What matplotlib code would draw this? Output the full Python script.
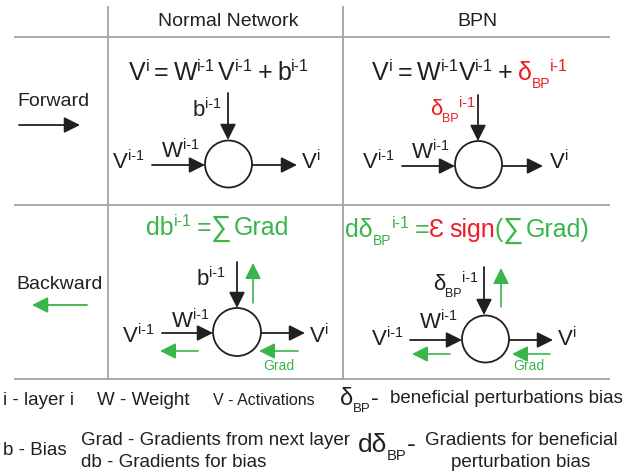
import matplotlib.pyplot as plt
from matplotlib.patches import Circle

plt.rcParams['font.family'] = ['Liberation Sans', 'DejaVu Sans']

INK = '#231f20'
RED = '#ed1c24'
GREEN = '#39b54a'
GRID = '#a3a3a3'
DPI = 100

# Texts of the figure
columns = ['Normal Network', 'BPN']
passes = ['Forward', 'Backward']
grad_label = 'Grad'
legend_row1 = ['i - layer i', 'W - Weight', 'V - Activations', 'beneficial perturbations bias']
legend_row2 = ['b - Bias', 'Grad - Gradients from next layer', 'db - Gradients for bias',
               'Gradients for beneficial', 'perturbation bias']

fig = plt.figure(figsize=(6.28, 4.73), dpi=DPI)
ax = fig.add_axes([0, 0, 1, 1])
ax.set_xlim(0, 628)
ax.set_ylim(473, 0)
ax.axis('off')
renderer = fig.canvas.get_renderer()

# size scale and baseline shift (in em) for each kind of piece
STYLE = {'n': (1.0, 0.0), 'big': (1.15, 0.02), 'sup': (0.64, -0.36), 'sub': (0.56, 0.3)}


def rich(x, y, pieces, size, ha='left'):
    # pieces: (text, color, kind) - kind is 'n', 'big', 'sup', 'sub' or a gap in em
    em = size * DPI / 72
    items = []
    cx = 0
    for text, color, kind in pieces:
        if not isinstance(kind, str):
            cx += kind * em
            continue
        scale, dy = STYLE[kind]
        t = ax.text(0, 0, text, color=color, fontsize=size * scale,
                    ha='left', va='baseline')
        w = t.get_window_extent(renderer).width
        items.append((t, cx, dy * em))
        cx += w
    x0 = x - cx / 2 if ha == 'center' else x
    for t, off, dy in items:
        t.set_position((x0 + off, y + dy))


def arrow(x0, y0, x1, y1, color=INK, lw=1.3):
    ax.annotate('', xy=(x1, y1), xytext=(x0, y0),
                arrowprops=dict(arrowstyle='-|>,head_length=0.8,head_width=0.4',
                                color=color, lw=lw, shrinkA=0, shrinkB=0,
                                mutation_scale=12))


def node(x, y, r=23.5):
    ax.add_patch(Circle((x, y), r, facecolor='white', edgecolor=INK, lw=1.3, zorder=3))


def sup(base, s, color=INK):
    return [(base, color, 'n'), (s, color, 'sup')]


def dbp(color=INK, prefix=''):
    return [(prefix + '\u03b4', color, 'n'), ('BP', color, 'sub')]


# grid
for gx in (108, 343):
    ax.plot([gx, gx], [7, 379], color=GRID, lw=1.3)
for gy in (37, 205, 379):
    ax.plot([15, 609], [gy, gy], color=GRID, lw=1.3)

# headers
ax.text(228.5, 26, columns[0], fontsize=14, color=INK, ha='center', va='baseline')
ax.text(477, 26, columns[1], fontsize=14, color=INK, ha='center', va='baseline')
ax.text(53, 106, passes[0], fontsize=14, color=INK, ha='center', va='baseline')
arrow(19, 125, 80, 125)
ax.text(59.5, 289, passes[1], fontsize=14, color=INK, ha='center', va='baseline')
arrow(87, 305, 32, 305, GREEN)

FS = 16     # node labels
EQ = 18     # equations
G = 0.2

# ---- forward, normal network
rich(219, 80, sup('V', 'i') + [('', INK, G), ('=', INK, 'n'), ('', INK, G)]
     + sup('W', 'i-1') + [('', INK, 0.12)] + sup('V', 'i-1')
     + [('', INK, G), ('+', INK, 'n'), ('', INK, G)] + sup('b', 'i-1'), EQ, 'center')
rich(193, 116, sup('b', 'i-1'), FS)
arrow(228, 93, 228, 140)
node(228.5, 164)
arrow(152, 165, 205, 165)
arrow(252, 165, 297, 165)
rich(113, 168, sup('V', 'i-1'), FS)
rich(162, 157, sup('W', 'i-1'), FS)
rich(302, 168, sup('V', 'i'), FS)

# ---- forward, BPN
rich(470, 80, sup('V', 'i') + [('', INK, G), ('=', INK, 'n'), ('', INK, G)]
     + sup('W', 'i-1') + sup('V', 'i-1')
     + [('', INK, G), ('+', INK, 'n'), ('', INK, G)]
     + dbp(RED) + [('i-1', RED, 'sup')], EQ, 'center')
rich(430, 115, dbp(RED) + [('i-1', RED, 'sup')], FS)
arrow(478, 95, 478, 141)
node(478.5, 164.5)
arrow(402, 166, 455, 166)
arrow(502, 166, 543, 166)
rich(363, 168, sup('V', 'i-1'), FS)
rich(412, 158, sup('W', 'i-1'), FS)
rich(550, 168, sup('V', 'i'), FS)

# ---- backward, normal network
rich(217.5, 235, sup('db', 'i-1', GREEN) + [('', GREEN, G), ('=', GREEN, 'n'),
     ('\u2211', GREEN, 'big'), ('', GREEN, 0.08), ('Grad', GREEN, 'n')], EQ, 'center')
rich(197, 285, sup('b', 'i-1'), FS)
arrow(237, 262, 237, 308)
arrow(253, 303, 253, 263, GREEN, 1.2)
node(237, 332, 24)
arrow(162, 333, 213, 333)
arrow(261, 333, 305, 333)
rich(123, 342, sup('V', 'i-1'), FS)
rich(172, 327, sup('W', 'i-1'), FS)
rich(310, 342, sup('V', 'i'), FS)
arrow(198, 351, 160, 351, GREEN, 1.2)
arrow(298, 351, 259, 351, GREEN, 1.2)
ax.text(263, 370, grad_label, fontsize=10, color=GREEN, ha='left', va='baseline')

# ---- backward, BPN
rich(467.5, 237, dbp(GREEN, 'd') + [('i-1', GREEN, 'sup'), ('', GREEN, G), ('=', GREEN, 'n'),
     ('\u0190', RED, 'n'), ('', RED, G), ('sign', RED, 'n'), ('(', GREEN, 'n'),
     ('\u2211', GREEN, 'big'), ('', GREEN, 0.08), ('Grad)', GREEN, 'n')], EQ, 'center')
rich(433, 290, dbp() + [('i-1', INK, 'sup')], FS)
arrow(484, 267, 484, 315)
arrow(501, 307, 501, 268, GREEN, 1.2)
node(485.5, 339)
arrow(410, 340, 462, 340)
arrow(509, 340, 553, 340)
rich(372, 345, sup('V', 'i-1'), FS)
rich(420, 328, sup('W', 'i-1'), FS)
rich(558, 345, sup('V', 'i'), FS)
arrow(450, 354, 412, 354, GREEN, 1.2)
arrow(550, 354, 512, 354, GREEN, 1.2)
ax.text(513, 370, grad_label, fontsize=10, color=GREEN, ha='left', va='baseline')

# ---- legend
LS = 13.5
ax.text(3, 405, legend_row1[0], fontsize=LS, color=INK, va='baseline')
ax.text(97, 405, legend_row1[1], fontsize=LS, color=INK, va='baseline')
ax.text(213, 405, legend_row1[2], fontsize=11.5, color=INK, va='baseline')
rich(340, 405, dbp() + [('-', INK, 'n')], 17)
ax.text(390, 403, legend_row1[3], fontsize=LS, color=INK, va='baseline')

ax.text(3, 455, legend_row2[0], fontsize=LS, color=INK, va='baseline')
ax.text(81, 445, legend_row2[1], fontsize=LS, color=INK, va='baseline')
ax.text(174, 467, legend_row2[2], fontsize=LS, color=INK, ha='center', va='baseline')
rich(358, 452, dbp(INK, 'd') + [('-', INK, 'n')], 19)
ax.text(521, 445, legend_row2[3], fontsize=LS, color=INK, ha='center', va='baseline')
ax.text(521, 467, legend_row2[4], fontsize=LS, color=INK, ha='center', va='baseline')

fig.savefig('out.png', dpi=DPI)
